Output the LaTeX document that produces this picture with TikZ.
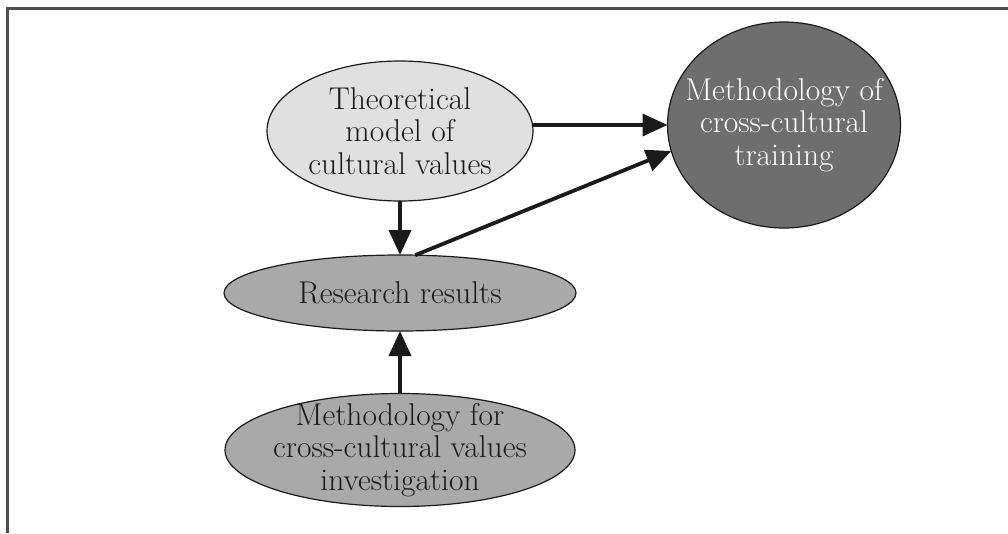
\documentclass[tikz,border=0pt]{standalone}
\usetikzlibrary{shapes.geometric,arrows.meta}

\definecolor{framegray}{HTML}{4D4D4D}
\definecolor{lightfill}{HTML}{E0E0E0}
\definecolor{midfill}{HTML}{A9A9A9}
\definecolor{darkfill}{HTML}{6E6E6E}
\definecolor{ink}{HTML}{1A1A1A}

\tikzset{
  % negative inner sep keeps the outline at its minimum size despite big labels
  bubble/.style={ellipse, draw=ink, line width=1.2pt, inner sep=-25pt, outer sep=0pt,
    align=center, text=ink, font=\fontsize{31.5}{32.5}\selectfont},
  flow/.style={draw=ink, line width=3.8pt,
    -{Triangle[length=25pt,width=22pt]}, shorten >=0pt},
}

\begin{document}
\begin{tikzpicture}[x=1pt,y=-1pt]
  \useasboundingbox (0,0) rectangle (1008,533);

  % open frame: top and left edges only
  \draw[framegray, line width=2.6pt] (7.5,533) -- (7.5,8.5) -- (1008,8.5);

  % concepts
  \node[bubble, fill=lightfill, minimum width=266pt, minimum height=140pt]
    (theo) at (400,131) {Theoretical\\model of\\cultural values};
  \node[bubble, fill=darkfill, text=white, minimum width=233pt, minimum height=206pt]
    (train) at (784,125) {Methodology of\\cross-cultural\\training};
  \node[bubble, fill=midfill, minimum width=352pt, minimum height=76pt]
    (res) at (400,293) {Research results};
  \node[bubble, fill=midfill, minimum width=350pt, minimum height=113pt]
    (invest) at (400,450) {Methodology for\\cross-cultural values\\investigation};

  % connections
  \draw[flow] (theo.east |- train.west) -- (train.west);
  \draw[flow] (theo.south) -- (res.north);
  \draw[flow] (res.68) -- (train.193);
  \draw[flow] (invest.north) -- (res.south);
\end{tikzpicture}
\end{document}
